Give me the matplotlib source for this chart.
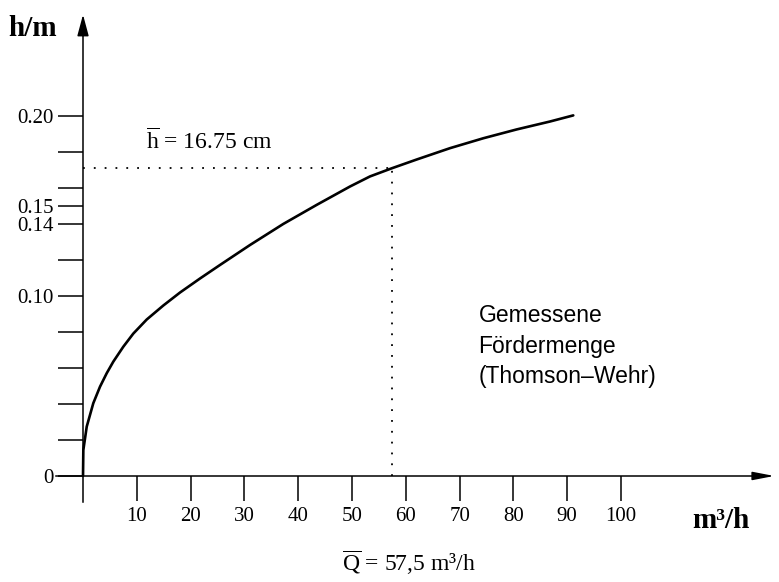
import numpy as np
import matplotlib
matplotlib.use("Agg")
import matplotlib.pyplot as plt

plt.rcParams['font.family'] = ['Liberation Serif', 'DejaVu Serif']
plt.rcParams['mathtext.fontset'] = 'custom'
plt.rcParams['mathtext.rm'] = 'Liberation Serif'

# Messkurve
q_vals = [0, 0.06, 0.69, 1.91, 3.16, 4.41, 5.63, 7.49, 9.35, 11.84, 14.93,
          18.03, 21.75, 25.46, 31.04, 37.23, 43.44, 49.63, 53.35, 57.38,
          62.03, 68.22, 74.41, 80.61, 86.8, 91.13]
h_vals = [0, 0.0144, 0.0274, 0.0404, 0.0496, 0.0571, 0.0635, 0.0718, 0.0791,
          0.0869, 0.0947, 0.1019, 0.1097, 0.1172, 0.1283, 0.1400, 0.1506,
          0.1608, 0.1664, 0.1709, 0.1758, 0.1821, 0.1876, 0.1925, 0.1969, 0.2003]

q_mean = 57.5
h_mean = 0.171  # Linie im Bild (beschriftet mit 16.75 cm)

x_ticks = [10, 20, 30, 40, 50, 60, 70, 80, 90, 100]
y_ticks = [0, 0.02, 0.04, 0.06, 0.08, 0.10, 0.12, 0.14, 0.15, 0.16, 0.18, 0.20]
y_ticklabels = ['0', '', '', '', '', '0.10', '', '0.14', '0.15', '', '', '0.20']

fig = plt.figure(figsize=(7.79, 5.82), dpi=100)
ax = fig.add_axes([0, 0, 1, 1])
ax.set_xlim(-15.43, 129.37)
ax.set_ylim(-0.0589, 0.2644)

# Achsen
for s in ['top', 'right']:
    ax.spines[s].set_visible(False)
ax.spines['left'].set_position(('data', 0))
ax.spines['bottom'].set_position(('data', 0))
ax.spines['left'].set_bounds(-0.0144, 0.245)
ax.spines['bottom'].set_bounds(-5.0, 125)
for s in ['left', 'bottom']:
    ax.spines[s].set_linewidth(1.1)

ax.set_xticks(x_ticks)
ax.set_xticklabels([str(v) for v in x_ticks])
ax.set_yticks(y_ticks)
ax.set_yticklabels(y_ticklabels)
ax.tick_params(axis='both', direction='out', length=18, width=1.1, labelsize=15)
ax.tick_params(axis='x', pad=4)
ax.tick_params(axis='y', pad=3)

# Pfeilspitzen
ax.annotate('', xy=(0, 0.2578), xytext=(0, 0.2430),
            arrowprops=dict(arrowstyle='-|>,head_length=1.3,head_width=0.35',
                            color='black', lw=1.1))
ax.annotate('', xy=(129.0, 0), xytext=(124.0, 0),
            arrowprops=dict(arrowstyle='-|>,head_length=1.3,head_width=0.25',
                            color='black', lw=1.1))

# Kurve
ax.plot(q_vals, h_vals, color='black', lw=1.9, solid_capstyle='round',
        solid_joinstyle='round')

# Hilfslinien
ax.plot([0, q_mean], [h_mean, h_mean], color='black', lw=1.3,
        linestyle=(0, (1.0, 5.0)))
ax.plot([q_mean, q_mean], [0, h_mean], color='black', lw=1.3,
        linestyle=(0, (1.0, 5.0)))

# Beschriftungen
ax.text(-13.9, 0.2483, 'h/m', fontsize=21, fontweight='bold', ha='left', va='center')
ax.text(113.2, -0.025, 'm³/h', fontsize=21, fontweight='bold', ha='left', va='center')
ax.text(11.8, 0.186, r'$\overline{\mathrm{h}}$ = 16.75 cm', fontsize=17,
        ha='left', va='center')
ax.text(48.1, -0.048, r'$\overline{\mathrm{Q}}$ = 57,5 m³/h', fontsize=17,
        ha='left', va='center')
ax.text(73.5, 0.0955, 'Gemessene\nFördermenge\n(Thomson–Wehr)', fontsize=16.5,
        family=['Liberation Sans', 'DejaVu Sans'], ha='left', va='top',
        linespacing=1.42)

fig.savefig('out.png', dpi=100)
